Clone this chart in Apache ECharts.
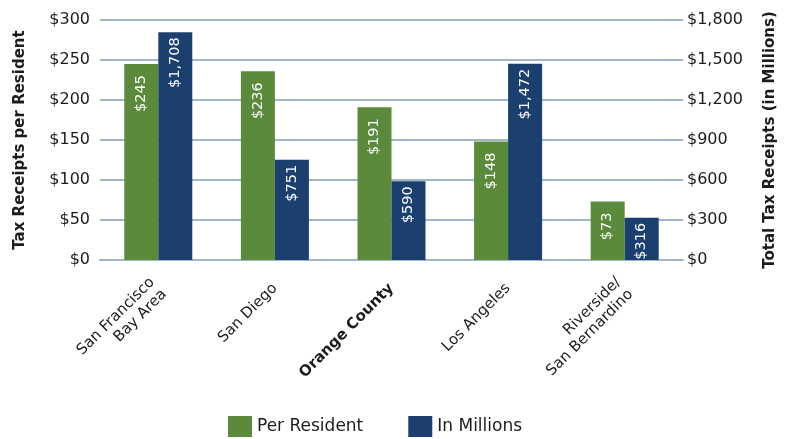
<!DOCTYPE html>
<html>
<head>
<meta charset="utf-8">
<script src="https://cdn.jsdelivr.net/npm/echarts@6/dist/echarts.min.js"></script>
<style>
html,body{margin:0;padding:0;background:#fff;}
#chart{width:791px;height:439px;}
</style>
</head>
<body>
<div id="chart"></div>
<script>
const categories = ['San Francisco\nBay Area', 'San Diego', 'Orange County', 'Los Angeles', 'Riverside/\nSan Bernardino'];
const boldCategory = 'Orange County';
const perResident = [245, 236, 191, 148, 73];
const inMillions = [1708, 751, 590, 1472, 316];
const leftTicks = {min: 0, max: 300, interval: 50};
const rightTicks = {min: 0, max: 1800, interval: 300};

const FONT = 'DejaVu Sans';
const TXT = '#1e1b1c';
const GRID = '#9fb6cb';
const fmt = v => '$' + Number(v).toLocaleString('en-US');

const chart = echarts.init(document.getElementById('chart'));
chart.setOption({
  animation: false,
  textStyle: {fontFamily: FONT},
  grid: {left: 100, right: 108, top: 20, bottom: 179, containLabel: false},
  legend: {
    data: ['Per Resident', 'In Millions'],
    left: 228, top: 416, padding: 0,
    icon: 'rect', itemWidth: 24, itemHeight: 21, itemGap: 45,
    textStyle: {fontFamily: FONT, fontSize: 17, color: TXT}
  },
  xAxis: {
    type: 'category',
    data: categories,
    axisLine: {lineStyle: {color: GRID, width: 2}},
    axisTick: {show: false},
    axisLabel: {
      rotate: 45, margin: 26, fontFamily: FONT, fontSize: 15, color: TXT, lineHeight: 17,
      interval: 0,
      formatter: v => v === boldCategory ? '{b|' + v + '}' : v,
      rich: {b: {fontWeight: 'bold', fontFamily: FONT, fontSize: 15, color: TXT}}
    }
  },
  yAxis: [
    {
      type: 'value', position: 'left',
      min: leftTicks.min, max: leftTicks.max, interval: leftTicks.interval,
      name: 'Tax Receipts per Resident', nameLocation: 'middle', nameGap: 72, nameRotate: 90,
      nameTextStyle: {fontFamily: FONT, fontWeight: 'bold', fontSize: 15, color: TXT},
      axisLine: {show: false}, axisTick: {show: false},
      axisLabel: {formatter: fmt, fontFamily: FONT, fontSize: 16, color: TXT, margin: 10},
      splitLine: {lineStyle: {color: GRID, width: 2}}
    },
    {
      type: 'value', position: 'right',
      min: rightTicks.min, max: rightTicks.max, interval: rightTicks.interval,
      name: 'Total Tax Receipts (in Millions)', nameLocation: 'middle', nameGap: 80, nameRotate: 90,
      nameTextStyle: {fontFamily: FONT, fontWeight: 'bold', fontSize: 15, color: TXT},
      axisLine: {show: false}, axisTick: {show: false},
      axisLabel: {formatter: fmt, fontFamily: FONT, fontSize: 16, color: TXT, margin: 4},
      splitLine: {show: false}
    }
  ],
  series: [
    {
      name: 'Per Resident', type: 'bar', yAxisIndex: 0, data: perResident,
      barWidth: 34, barGap: '0%',
      itemStyle: {color: '#5b8a3b'},
      label: {show: true, position: 'insideTop', rotate: 90, align: 'right', verticalAlign: 'middle',
        distance: 11, color: '#fff', fontFamily: FONT, fontSize: 14.5, formatter: p => fmt(p.value)}
    },
    {
      name: 'In Millions', type: 'bar', yAxisIndex: 1, data: inMillions,
      barWidth: 34, barGap: '0%',
      itemStyle: {color: '#1b406f'},
      label: {show: true, position: 'insideTop', rotate: 90, align: 'right', verticalAlign: 'middle',
        distance: 5, color: '#fff', fontFamily: FONT, fontSize: 14.5, formatter: p => fmt(p.value)}
    }
  ]
});
</script>
</body>
</html>
